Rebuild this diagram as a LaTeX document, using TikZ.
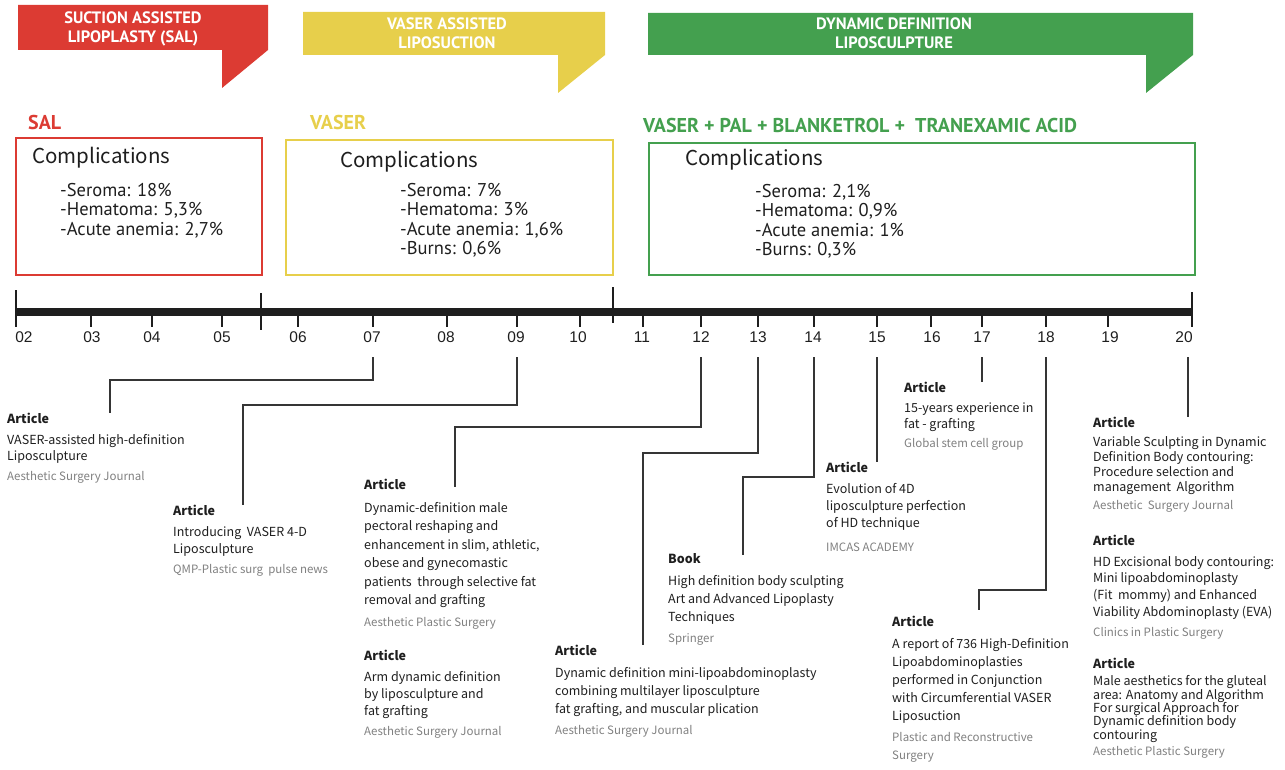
\documentclass[tikz,border=0pt]{standalone}
\usepackage{fontspec}
\setmainfont{Noto Sans CJK SC}
\newfontfamily\condfont{PT Sans}
\newfontfamily\numfont{Liberation Sans}
\usetikzlibrary{positioning}
\definecolor{salred}{HTML}{DC3B33}
\definecolor{vaseryellow}{HTML}{E7CF4B}
\definecolor{ddgreen}{HTML}{44A04F}
\definecolor{jgray}{HTML}{808080}
\definecolor{ink}{HTML}{1E1E1E}
\newcommand{\jnl}{\color{jgray}\fontsize{11.5}{15}\selectfont}
\newcommand{\pub}[4][3pt]{\textbf{#2}\\[4pt]#3\\[#1]\jnl #4}

\begin{document}
\begin{tikzpicture}[x=1pt,y=-1pt,
    flagtext/.style={text=white,font=\condfont\bfseries\fontsize{16.5}{19}\selectfont,align=center,inner sep=0},
    era/.style={text=#1,font=\condfont\bfseries\fontsize{20}{22}\selectfont,anchor=west,inner sep=0},
    cbox/.style={draw=#1,line width=2.2pt,anchor=north west,inner sep=0},
    ctitle/.style={font=\fontsize{20.5}{22}\selectfont,text=ink,anchor=west,inner sep=0},
    clist/.style={font=\condfont\fontsize{18.5}{19.4}\selectfont,text=ink,anchor=north west,align=left,inner sep=0},
    yr/.style={font=\numfont\fontsize{15.5}{16}\selectfont,text=ink,inner sep=0},
    sep/.style={draw=ink,line width=1.1pt},
    tick/.style={draw=ink,line width=1.2pt},
    art/.style={font=\fontsize{12.5}{#1}\selectfont,text=ink,anchor=north west,align=left,inner sep=0},
    art/.default=18,
    link/.style={draw=ink!90,line width=1.8pt},
  ]

  \useasboundingbox (0,0) rectangle (1285,770);

  % flags on top
  \fill[salred] (18,5) -- (268,5) -- (268,50) -- (222,88) -- (222,50) -- (18,50) -- cycle;
  \fill[vaseryellow] (303,12) -- (605,12) -- (605,55) -- (558,93) -- (558,55) -- (303,55) -- cycle;
  \fill[ddgreen] (648,13) -- (1193,13) -- (1193,55) -- (1146,93) -- (1146,55) -- (648,55) -- cycle;
  \node[flagtext] (salflag) at (133,28.5) {SUCTION ASSISTED\\LIPOPLASTY (SAL)};
  \node[flagtext] (vaserflag) at (447,33.5) {VASER ASSISTED\\LIPOSUCTION};
  \node[flagtext] (ddflag) at (894,33.5) {DYNAMIC DEFINITION\\LIPOSCULPTURE};

  \node[era=salred] (salhead) at (28,123) {SAL};
  \node[era=vaseryellow] (vaserhead) at (310,123) {VASER};
  \node[era=ddgreen] (ddhead) at (643,126) {VASER + PAL + BLANKETROL +\ \ TRANEXAMIC ACID};

  % complication boxes
  \node[cbox=salred,minimum width=246pt,minimum height=137pt] (salbox) at (15,137) {};
  \node[cbox=vaseryellow,minimum width=327pt,minimum height=135pt] (vaserbox) at (285,139) {};
  \node[cbox=ddgreen,minimum width=546pt,minimum height=132pt] (ddbox) at (648,142) {};

  \node[ctitle] (salc) at (32,158) {Complications};
  \node[ctitle] (vaserc) at (340,162) {Complications};
  \node[ctitle] (ddc) at (685,160) {Complications};
  \node[clist] (sall) at (60,183) {-Seroma: 18\%\\-Hematoma: 5,3\%\\-Acute anemia: 2,7\%};
  \node[clist] (vaserl) at (400,183) {-Seroma: 7\%\\-Hematoma: 3\%\\-Acute anemia: 1,6\%\\-Burns: 0,6\%};
  \node[clist] (ddl) at (755,184) {-Seroma: 2,1\%\\-Hematoma: 0,9\%\\-Acute anemia: 1\%\\-Burns: 0,3\%};

  % timeline
  \draw[ink,line width=8pt] (16,312) -- (1192,312);
  \draw[sep] (16,290) -- (16,322);
  \draw[sep] (261,293) -- (261,330);
  \draw[sep] (613,287) -- (613,323);
  \draw[sep] (1192,292) -- (1192,327);
  \foreach \yr/\xx/\lx in {02/16/24, 03/91/92, 04/152/152, 05/222/222, 06/298/298,
      07/373/372, 08/447/446, 09/517/516, 10/580/578, 11/643/642, 12/701/701,
      13/758/758, 14/814/813, 15/877/877, 16/931/932, 17/982/982, 18/1046/1046,
      19/1108/1110, 20/1192/1184} {
    \draw[tick] (\xx,316) -- (\xx,327);
    \node[yr] (y\yr) at (\lx,337) {\yr};
    \coordinate (d\yr) at (\xx,357);
  }
  \coordinate (d20) at (1188,357);

  % publications
  \node[art=16.5] (a1) at (7,413) {\pub{Article}{VASER-assisted high-definition\\Liposculpture}{Aesthetic Surgery Journal}};
  \node[art=17] (a2) at (173,505) {\pub{Article}{Introducing\ \ VASER 4-D\\Liposculpture}{QMP-Plastic surg\ \ pulse news}};
  \node[art=18.5] (a3) at (364,479) {\pub{Article}{Dynamic-definition male\\pectoral reshaping and\\enhancement in slim, athletic,\\obese and gynecomastic\\patients\ \ through selective fat\\removal and grafting}{Aesthetic Plastic Surgery}};
  \node[art=17] (a4) at (364,650) {\pub{Article}{Arm dynamic definition\\by liposculpture and\\fat grafting}{Aesthetic Surgery Journal}};
  \node[art=18] (a5) at (555,645) {\pub{Article}{Dynamic definition mini-lipoabdominoplasty\\combining multilayer liposculpture\\fat grafting, and muscular plication}{Aesthetic Surgery Journal}};
  \node[art=18] (a6) at (668,553) {\pub{Book}{High definition body sculpting\\Art and Advanced Lipoplasty\\Techniques}{Springer}};
  \node[art=17] (a7) at (826,462) {\pub[7pt]{Article}{Evolution of 4D\\liposculpture perfection\\of HD technique}{IMCAS ACADEMY}};
  \node[art=16] (a8) at (904,382) {\pub{Article}{15-years experience in\\fat - grafting}{Global stem cell group}};
  \node[art=18] (a9) at (892,616) {\pub{Article}{A report of 736 High-Definition\\Lipoabdominoplasties\\performed in Conjunction\\with Circumferential VASER\\Liposuction}{Plastic and Reconstructive\\\jnl Surgery}};
  \node[art=15] (a10) at (1093,417) {\pub{Article}{Variable Sculpting in Dynamic\\Definition Body contouring:\\Procedure selection and\\management\ \ Algorithm}{Aesthetic\ \ Surgery Journal}};
  \node[art=16.7] (a11) at (1093,535) {\pub{Article}{HD Excisional body contouring:\\Mini lipoabdominoplasty\\(Fit\ \ mommy) and Enhanced\\Viability Abdominoplasty (EVA)}{Clinics in Plastic Surgery}};
  \node[art=13.3] (a12) at (1093,658) {\pub{Article}{Male aesthetics for the gluteal\\area: Anatomy and Algorithm\\For surgical Approach for\\Dynamic definition body\\contouring}{Aesthetic Plastic Surgery}};

  \coordinate (e1) at (110,413);
  \coordinate (e2) at (243,505);
  \coordinate (e3) at (455,487);
  \coordinate (e4) at (643,645);
  \coordinate (e5) at (743,555);
  \coordinate (e8) at (979,610);

  \draw[link] (d07) -- ++(0,23) -| (e1);
  \draw[link] (d09) -- ++(0,48) -| (e2);
  \draw[link] (d12) -- ++(0,70) -| (e3);
  \draw[link] (d13) -- ++(0,96) -| (e4);
  \draw[link] (d14) -- ++(0,120) -| (e5);
  \draw[link] (d15) -- (d15 |- a7.north);
  \draw[link] (d17) -- (d17 |- a8.north);
  \draw[link] (d18) -- ++(0,233) -| (e8);
  \draw[link] (d20) -- (d20 |- a10.north);
\end{tikzpicture}
\end{document}
